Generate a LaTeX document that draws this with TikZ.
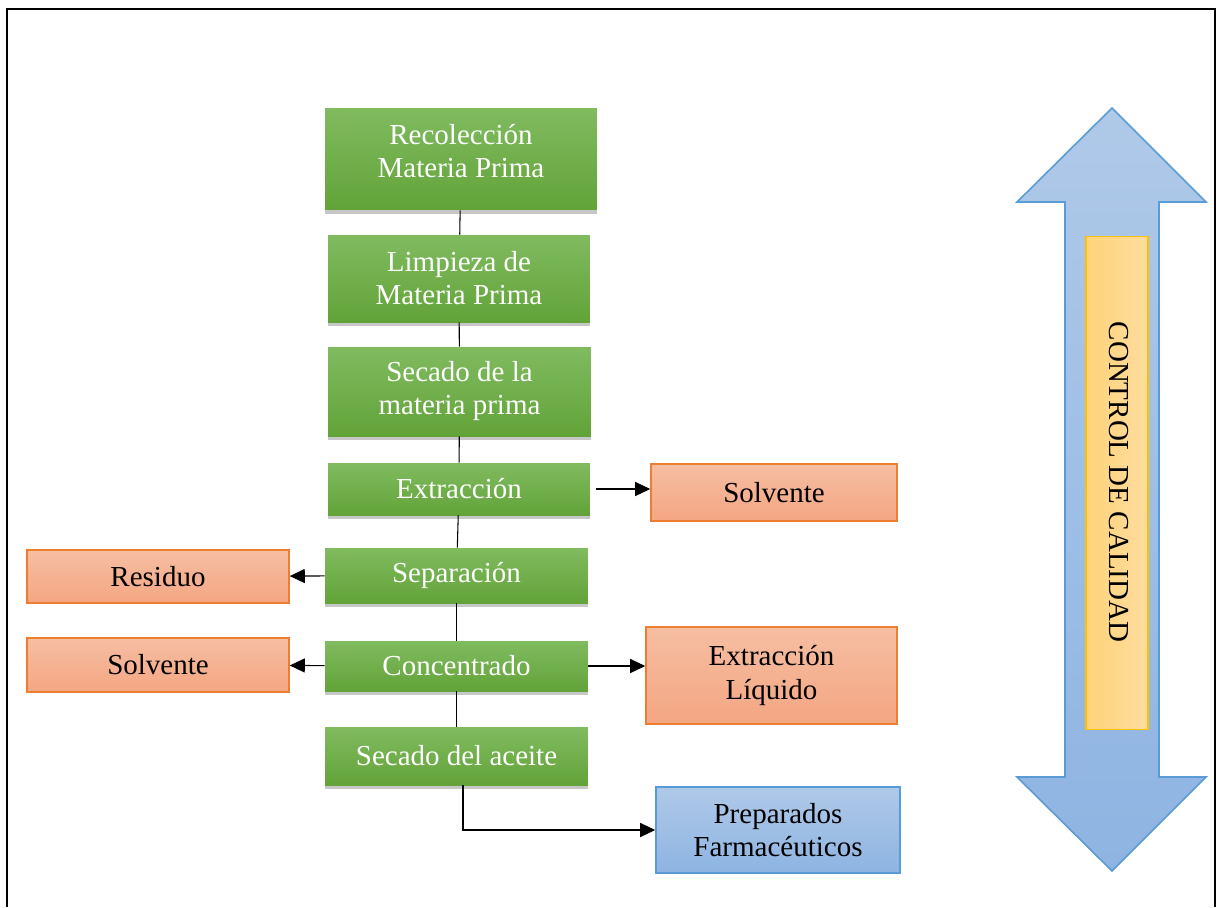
\documentclass[tikz,border=0pt]{standalone}
\usepackage{fontspec}
\setmainfont{Liberation Serif}
\usetikzlibrary{arrows.meta,shadows}
\definecolor{vdA}{RGB}{128,187,96}
\definecolor{vdB}{RGB}{98,163,56}
\definecolor{nrA}{RGB}{246,190,162}
\definecolor{nrB}{RGB}{244,166,130}
\definecolor{nrL}{RGB}{237,125,49}
\definecolor{azA}{RGB}{175,201,232}
\definecolor{azB}{RGB}{142,180,226}
\definecolor{azL}{RGB}{91,155,213}
\definecolor{amA}{RGB}{255,211,120}
\definecolor{amB}{RGB}{254,220,158}
\definecolor{amL}{RGB}{255,192,0}
\tikzset{
	paso/.style={top color=vdA, bottom color=vdB, text=white, inner sep=0pt, align=center,
		drop shadow={shadow xshift=0pt, shadow yshift=-2.5pt, opacity=0.22, fill=black}},
	salida/.style={draw=nrL, line width=0.9pt, top color=nrA, bottom color=nrB, inner sep=0pt, align=center},
	producto/.style={draw=azL, line width=0.9pt, top color=azA, bottom color=azB, inner sep=0pt, align=center},
	flecha/.style={line width=0.6pt, -{Triangle[length=0.3cm, width=0.28cm]}},
	une/.style={line width=0.6pt}
}
\begin{document}
\begin{tikzpicture}[x=0.02cm, y=-0.02cm, font=\fontsize{16.5}{18.8}\selectfont]
	\useasboundingbox (0,0) rectangle (1219,907);
	\draw[line width=1.1pt] (7,907) -- (7,9) -- (1215,9) -- (1215,907);

	\node[paso, minimum width=5.44cm, minimum height=2.04cm] at (461,159) (rec) {};
	\node[text=white, align=center, inner sep=0pt] at (461,151.5) (rectxt) {Recolección\\Materia Prima};
	\node[paso, minimum width=5.24cm, minimum height=1.74cm] at (459,278.5) (lim) {Limpieza de\\Materia Prima};
	\node[paso, minimum width=5.26cm, minimum height=1.78cm] at (459.5,391.5) (sec) {Secado de la\\materia prima};
	\node[paso, minimum width=5.24cm, minimum height=1.04cm] at (459,489) (ext) {Extracción};
	\node[paso, minimum width=5.26cm, minimum height=1.10cm] at (456.5,575.5) (sep) {Separación};
	\node[paso, minimum width=5.26cm, minimum height=1.00cm] at (456.5,666) (con) {Concentrado};
	\node[paso, minimum width=5.26cm, minimum height=1.16cm] at (456.5,756) (ace) {Secado del aceite};

	\node[salida, minimum width=5.24cm, minimum height=1.06cm] at (158,576.5) (res) {Residuo};
	\node[salida, minimum width=5.24cm, minimum height=1.08cm] at (158,665) (solvi) {Solvente};
	\node[salida, minimum width=4.92cm, minimum height=1.14cm] at (774,492.5) (solvd) {Solvente};
	\node[salida, minimum width=5.02cm, minimum height=1.94cm] at (771.5,675.5) (liq) {Extracción\\Líquido};
	\node[producto, minimum width=4.88cm, minimum height=1.72cm] at (778,830) (pre) {Preparados\\Farmacéuticos};

	\draw[une] (rec) -- (lim);
	\draw[une] (lim) -- (sec);
	\draw[une] (sec) -- (ext);
	\draw[une] (ext) -- (sep);
	\draw[une] (sep) -- (con);
	\draw[une] (con) -- (ace);
	\draw[flecha] ([xshift=6*0.02cm]ext.east) -- (ext.east -| solvd.west);
	\draw[flecha] (sep) -- (res);
	\draw[flecha] (con) -- (solvi);
	\draw[flecha] (con.east) -- (con.east -| liq.west);
	\draw[flecha] ([xshift=6.5*0.02cm]ace.south) |- (pre);

	\draw[draw=azL, line width=0.9pt, top color=azA, bottom color=azB]
		(1112,108) -- (1206,202) -- (1159,202) -- (1159,777) -- (1206,777) -- (1112,871)
		-- (1017,777) -- (1065,777) -- (1065,202) -- (1017,202) -- cycle;
	\node[draw=amL, line width=0.6pt, left color=amA, right color=amB, minimum width=1.24cm, minimum height=9.88cm, inner sep=0pt] at (1117,483) (cal) {};
	\node[rotate=-90] at (1119,482) (txt) {CONTROL DE CALIDAD};
\end{tikzpicture}
\end{document}
